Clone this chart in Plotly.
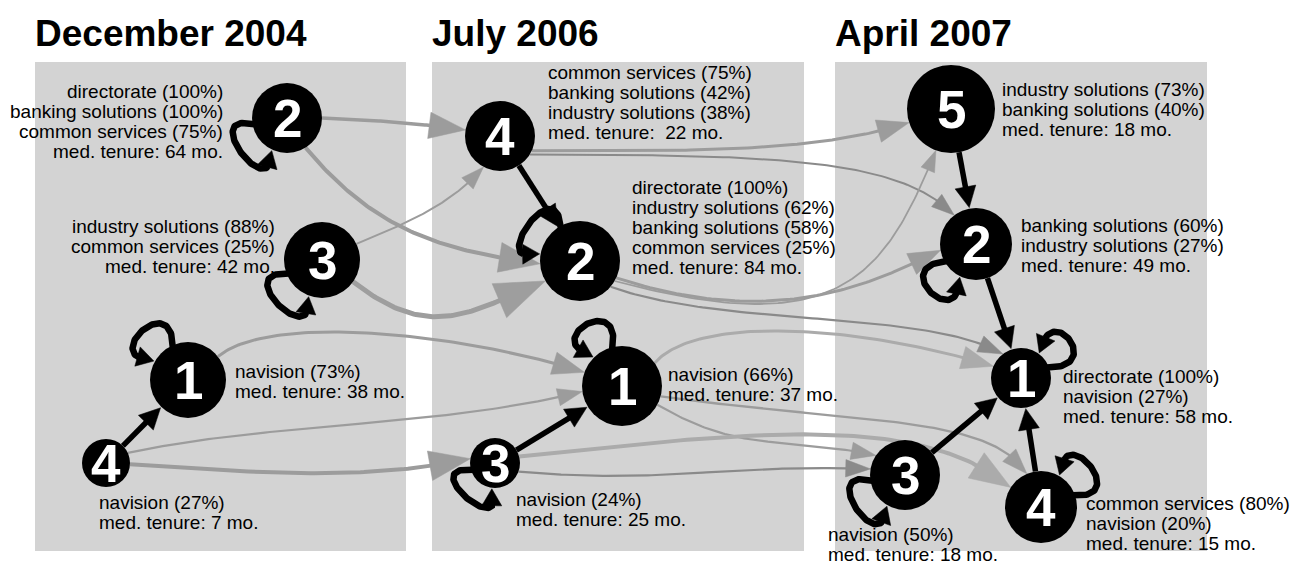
import numpy as np
import plotly.graph_objects as go

FONT = "Liberation Sans, Arial, Helvetica, sans-serif"

# ---------------- data ----------------
panel_titles = ["December 2004", "July 2006", "April 2007"]

# nodes (clusters) of each snapshot
node_panel = [0, 0, 0, 0, 1, 1, 1, 1, 2, 2, 2, 2, 2]
node_num = [2, 3, 1, 4, 4, 2, 1, 3, 5, 2, 1, 3, 4]
node_lines = [
    ["directorate (100%)", "banking solutions (100%)", "common services (75%)", "med. tenure: 64 mo."],
    ["industry solutions (88%)", "common services (25%)", "med. tenure: 42 mo."],
    ["navision (73%)", "med. tenure: 38 mo."],
    ["navision (27%)", "med. tenure: 7 mo."],
    ["common services (75%)", "banking solutions (42%)", "industry solutions (38%)", "med. tenure:\u00a0 22 mo."],
    ["directorate (100%)", "industry solutions (62%)", "banking solutions (58%)", "common services (25%)", "med. tenure: 84 mo."],
    ["navision (66%)", "med. tenure: 37 mo."],
    ["navision (24%)", "med. tenure: 25 mo."],
    ["industry solutions (73%)", "banking solutions (40%)", "med. tenure: 18 mo."],
    ["banking solutions (60%)", "industry solutions (27%)", "med. tenure: 49 mo."],
    ["directorate (100%)", "navision (27%)", "med. tenure: 58 mo."],
    ["navision (50%)", "med. tenure: 18 mo."],
    ["common services (80%)", "navision (20%)", "med. tenure: 15 mo."],
]

# flows between consecutive snapshots (node indices) and their weights
flow_src = [0, 0, 1, 1, 2, 3, 3, 4, 4, 5, 5, 5, 6, 6, 6, 7, 7]
flow_dst = [4, 5, 4, 5, 6, 6, 7, 8, 9, 8, 9, 10, 10, 12, 11, 12, 11]
flow_w = [3.5, 4, 2, 5, 3, 2.2, 4, 3, 2, 1.8, 3, 2.2, 3, 2.3, 2.2, 4, 2.2]

# transitions inside one snapshot
inner_src = [3, 4, 7, 8, 9, 11, 12]
inner_dst = [2, 5, 6, 9, 10, 10, 10]
self_loop_nodes = [0, 1, 2, 5, 6, 7, 9, 10, 11, 12]

# ---------------- layout / style ----------------
panel_x0 = [35, 432, 835]
panel_x1 = [406, 804, 1207]
panel_y0, panel_y1 = 62, 551
panel_fill = "#d3d3d3"

node_x = [287, 322, 188, 106, 500, 580, 622, 495, 951, 976, 1021, 905, 1041]
node_y = [118, 260, 380, 463, 136, 261, 386, 463, 109, 244, 378, 475, 507]
node_r = [35, 38, 38, 24, 35, 40, 40, 25, 44, 36, 30, 35, 36]

label_anchor = ["right", "right", "left", "left", "left", "left", "left", "left", "left", "left", "left", "left", "left"]
label_x = [225, 277, 233, 97, 546, 630, 666, 514, 1000, 1019, 1061, 826, 1084]
label_y = [91, 226, 371, 502, 72, 187, 374, 499, 89, 225, 376, 534, 503]
line_gap = 20

# routing of flows: start angle, departure angle, end angle, arrival angle, handle1, handle2
flow_route = [
    (0, 2, 190, 8, 50, 50),
    (58, 50, 176, 8, 110, 100),
    (-25, -22, 118, -50, 60, 45),
    (35, 38, 150, -22, 100, 80),
    (-38, -40, 200, 18, 70, 120),
    (-25, -12, 172, -14, 150, 150),
    (3, 4, 190, -12, 150, 100),
    (25, 0, 162, -18, 150, 100),
    (32, 0, 233, 46, 250, 78),
    (30, 15, 110, -68, 230, 140),
    (25, 18, 170, -25, 180, 60),
    (40, 20, 233, 30, 120, 90),
    (-35, -50, 203, 17, 60, 150),
    (15, 8, 247, 58, 200, 70),
    (28, 30, 214, 12, 100, 100),
    (-15, -6, 213, 40, 220, 120),
    (20, 5, 190, 2, 150, 150),
]
flow_color = ["#9c9c9c", "#9c9c9c", "#9c9c9c", "#9e9e9e", "#9c9c9c", "#9c9c9c", "#9c9c9c",
              "#9c9c9c", "#8a8a8a", "#9c9c9c", "#9c9c9c", "#8a8a8a", "#ababab", "#9c9c9c",
              "#9c9c9c", "#ababab", "#8a8a8a"]

loop_dir = [142, 134, 227, 215, 240, 130, 133, 322, 145, 320]
loop_half = [27, 24, 18, 25, 15, 33, 17, 16, 25, 20]


def u(a):
    r = np.radians(a)
    return np.array([np.cos(r), np.sin(r)])


def cubic(p0, p1, p2, p3, n=90):
    t = np.linspace(0, 1, n)[:, None]
    return (1 - t) ** 3 * p0 + 3 * (1 - t) ** 2 * t * p1 + 3 * (1 - t) * t ** 2 * p2 + t ** 3 * p3


fig = go.Figure()


def add_arrow(pts, color, width, alen, ahw):
    tip = pts[-1]
    d = np.linalg.norm(pts - tip, axis=1)
    idx = np.where(d >= alen)[0]
    k = idx[-1] if len(idx) else 0
    direction = tip - pts[k]
    direction = direction / np.linalg.norm(direction)
    base = tip - alen * direction
    perp = np.array([-direction[1], direction[0]])
    line_pts = np.vstack([pts[:k + 1], base + direction * 1.0])
    fig.add_trace(go.Scatter(x=line_pts[:, 0], y=line_pts[:, 1], mode="lines", opacity=1,
                             line=dict(color=color, width=width), hoverinfo="skip"))
    tri = np.array([tip, base + ahw * perp, base - ahw * perp, tip])
    fig.add_trace(go.Scatter(x=tri[:, 0], y=tri[:, 1], mode="lines", fill="toself", opacity=1,
                             fillcolor=color, line=dict(color=color, width=0.5), hoverinfo="skip"))


centers = [np.array([x, y], float) for x, y in zip(node_x, node_y)]

# gray flows between snapshots
for s, t, w, route, col in zip(flow_src, flow_dst, flow_w, flow_route, flow_color):
    a_s, a_d, a_e, a_a, h1, h2 = route
    p0 = centers[s] + node_r[s] * u(a_s)
    p3 = centers[t] + node_r[t] * u(a_e)
    p1 = p0 + h1 * u(a_d)
    p2 = p3 - h2 * u(a_a)
    pts = cubic(p0, p1, p2, p3)
    add_arrow(pts, col, w, 9 * w + 5, 3.5 * w + 1)

# black transitions inside snapshots
for s, t in zip(inner_src, inner_dst):
    d = centers[t] - centers[s]
    d = d / np.linalg.norm(d)
    p0 = centers[s] + node_r[s] * d
    p3 = centers[t] - (node_r[t] + 1) * d
    pts = np.linspace(p0, p3, 30)
    add_arrow(pts, "#000000", 5.5, 21, 10.5)

# self loops
for n, th, dl in zip(self_loop_nodes, loop_dir, loop_half):
    c = centers[n]
    r = node_r[n]
    a0, a1 = th + dl, th - dl
    p0 = c + (r - 2) * u(a0)
    p3 = c + (r + 1) * u(a1)
    p1 = c + (r + 56) * u(a0 + 16)
    p2 = c + (r + 56) * u(a1 - 16)
    pts = cubic(p0, p1, p2, p3)
    add_arrow(pts, "#000000", 6.5, 17, 10)

# nodes
fig.add_trace(go.Scatter(x=node_x, y=node_y, mode="markers", opacity=1,
                         marker=dict(size=[2 * r for r in node_r], color="#000000", opacity=1,
                                     line=dict(width=0, color="#000000")),
                         hoverinfo="skip"))

annotations = []
for x, y, n in zip(node_x, node_y, node_num):
    annotations.append(dict(x=x, y=y, text="<b>%d</b>" % n, showarrow=False, xanchor="center",
                            yanchor="middle", font=dict(family=FONT, size=53, color="white")))

for lines, anc, lx, ly in zip(node_lines, label_anchor, label_x, label_y):
    for i, txt in enumerate(lines):
        annotations.append(dict(x=lx, y=ly + i * line_gap, text=txt, showarrow=False, xanchor=anc,
                                yanchor="middle", font=dict(family=FONT, size=19, color="black")))

for title, x0 in zip(panel_titles, panel_x0):
    annotations.append(dict(x=x0 - 2, y=33, text="<b>%s</b>" % title, showarrow=False, xanchor="left",
                            yanchor="middle", font=dict(family=FONT, size=37, color="black")))

shapes = [dict(type="rect", x0=a, x1=b, y0=panel_y0, y1=panel_y1, fillcolor=panel_fill,
               line=dict(width=0), layer="below") for a, b in zip(panel_x0, panel_x1)]

fig.update_layout(
    width=1303, height=564, margin=dict(l=0, r=0, t=0, b=0),
    paper_bgcolor="white", plot_bgcolor="white", showlegend=False,
    xaxis=dict(range=[0, 1303], visible=False, fixedrange=True),
    yaxis=dict(range=[564, 0], visible=False, fixedrange=True),
    shapes=shapes, annotations=annotations, font=dict(family=FONT),
)

fig.write_html("out.html", config={"displayModeBar": False},
               post_script="document.body.style.margin='0px';")
